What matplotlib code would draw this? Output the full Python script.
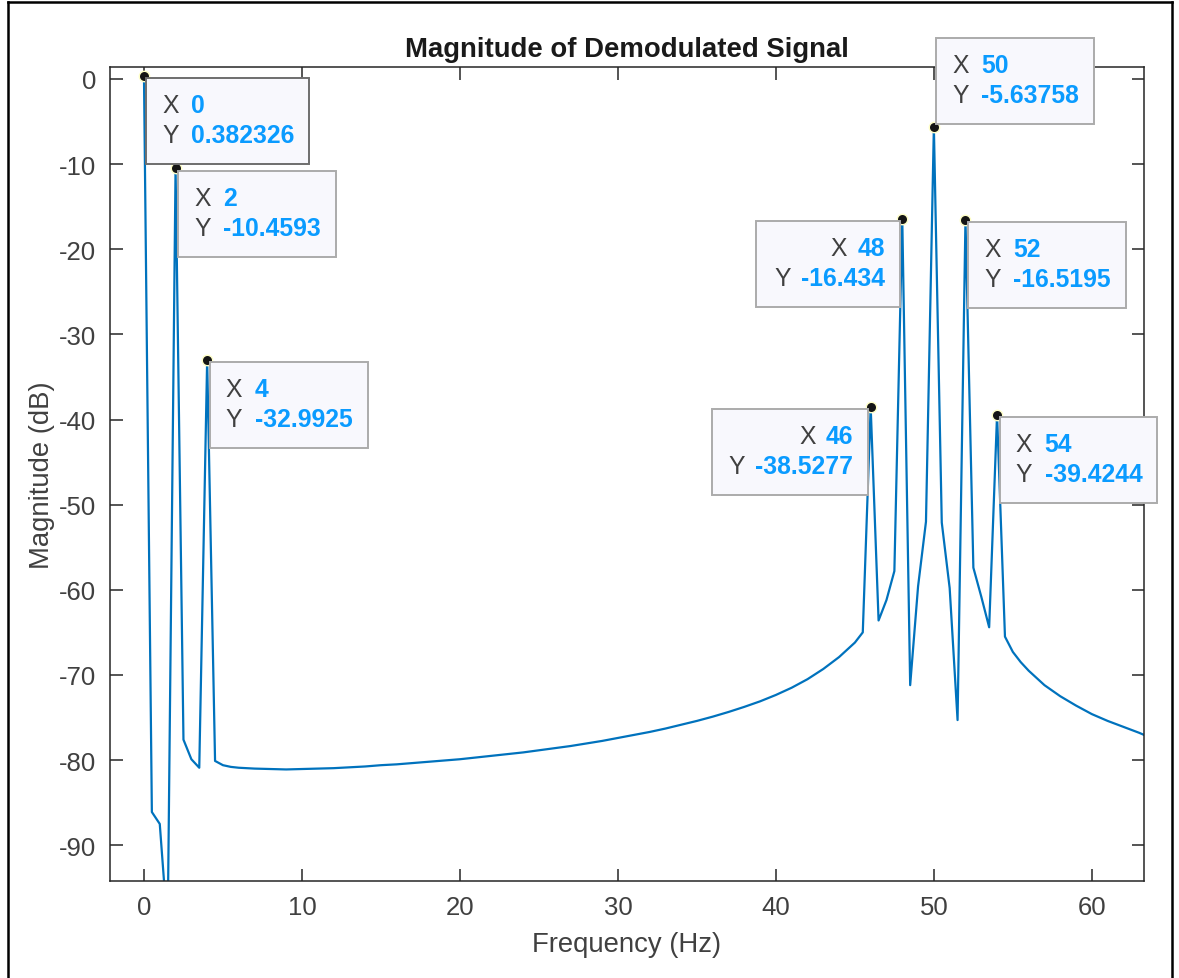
#%% Imports
import matplotlib.pyplot as plt
from matplotlib.patches import Rectangle
from matplotlib.transforms import IdentityTransform

plt.rcParams['font.family'] = ['Liberation Sans', 'DejaVu Sans']
plt.rcParams['axes.unicode_minus'] = False

#%% Spectrum (Hz, dB)
freq = [0, 0.5, 1, 1.5, 2, 2.5, 3, 3.5, 4, 4.5, 5, 5.5,
        6, 7, 8, 9, 10, 11, 12, 13, 14, 15, 16, 17, 18, 19, 20,
        21, 22, 23, 24, 25, 26, 27, 28, 29, 30, 31, 32, 33, 34, 35,
        36, 37, 38, 39, 40, 41, 42, 43, 44, 45, 45.5,
        46, 46.5, 47, 47.5, 48, 48.5, 49, 49.5, 50, 50.5, 51, 51.5,
        52, 52.5, 53, 53.5, 54, 54.5, 55, 55.5, 56, 57, 58, 59, 60,
        61, 62, 63, 63.5]
mag_db = [0.382326, -86.1, -87.5, -100.0, -10.4593, -77.6, -79.9, -80.9,
          -32.9925, -80.1, -80.6, -80.8,
          -80.9, -81.0, -81.05, -81.1, -81.05, -81.0, -80.95, -80.85, -80.75,
          -80.6, -80.5, -80.35, -80.2, -80.05, -79.9,
          -79.7, -79.5, -79.3, -79.1, -78.85, -78.6, -78.35, -78.05, -77.75,
          -77.4, -77.05, -76.7, -76.3, -75.85, -75.4,
          -74.9, -74.35, -73.75, -73.1, -72.35, -71.5, -70.5, -69.3, -67.9,
          -66.2, -65.0,
          -38.5277, -63.6, -61.2, -57.8, -16.434, -71.2, -59.6, -52.0,
          -5.63758, -52.1, -59.8, -75.3,
          -16.5195, -57.4, -60.8, -64.4, -39.4244, -65.5, -67.3, -68.5, -69.5,
          -71.2, -72.5, -73.6, -74.6, -75.4, -76.1, -76.8, -77.2]

# data tips
tip_x = [0, 2, 4, 46, 48, 50, 52, 54]
tip_y = [0.382326, -10.4593, -32.9925, -38.5277, -16.434, -5.63758, -16.5195, -39.4244]
tip_side = ['se', 'se', 'se', 'sw', 'sw', 'ne', 'se', 'se']
tip_width = [163, 158, 158, 156, 144, 158, 158, 157]

#%% Figure
fig = plt.figure(figsize=(11.79, 9.79), dpi=100)
fig.patch.set_facecolor('white')
ax = fig.add_axes([0.0933, 0.0991, 0.877, 0.8314])

ax.plot(freq, mag_db, color='#0072BD', lw=1.6, zorder=2)
ax.plot(tip_x, tip_y, 'o', ms=7.5, mfc='#151515', mec='#FFFFC8', mew=1.0, zorder=4)

ax.set_xlim(-2.15, 63.3)
ax.set_ylim(-94.2, 1.4)
ax.set_xticks(range(0, 61, 10))
ax.set_yticks(range(-90, 1, 10))

axcol = '#262626'
for s in ax.spines.values():
    s.set_color(axcol)
    s.set_linewidth(1.1)
ax.tick_params(direction='in', length=9, width=1.1, color=axcol,
               labelcolor='#404040', labelsize=18.5, top=True, right=True,
               pad=10)
ax.set_xlabel('Frequency (Hz)', fontsize=19.8, color='#404040', labelpad=9)
ax.set_ylabel('Magnitude (dB)', fontsize=19.8, color='#404040', labelpad=3)
ax.set_title('Magnitude of Demodulated Signal', fontsize=19.8,
             fontweight='bold', color='#1a1a1a', pad=8)

#%% Data tip boxes
renderer = fig.canvas.get_renderer()
box_h = 86
gap = 2.5
for i, (x, y) in enumerate(zip(tip_x, tip_y)):
    px, py = ax.transData.transform((x, y))
    w = tip_width[i]
    side = tip_side[i]
    if side == 'se':
        left, top = px + gap, py - gap
    elif side == 'sw':
        left, top = px - gap - w, py - gap
    else:
        left, top = px + gap, py + gap + box_h
    edge = '#6E6E6E' if i == 0 else '#ABABAB'
    fig.add_artist(Rectangle((left, top - box_h), w, box_h,
                             transform=IdentityTransform(), fc='#F8F8FD',
                             ec=edge, lw=1.4, zorder=5))
    rows = [('X', f'{x:g}'), ('Y', f'{y:g}')]
    for j, (lab, val) in enumerate(rows):
        yy = top - 27 - 30 * j
        if side == 'sw':
            t = fig.text(left + w - 15, yy, val, transform=IdentityTransform(),
                         ha='right', va='center', fontsize=17.8,
                         fontweight='bold', color='#0A9BFF', zorder=6)
            bb = t.get_window_extent(renderer)
            fig.text(bb.x0 - 10, yy, lab, transform=IdentityTransform(),
                     ha='right', va='center', fontsize=17.8,
                     color='#404040', zorder=6)
        else:
            fig.text(left + 16, yy, lab, transform=IdentityTransform(),
                     ha='left', va='center', fontsize=17.8,
                     color='#404040', zorder=6)
            fig.text(left + 45, yy, val, transform=IdentityTransform(),
                     ha='left', va='center', fontsize=17.8,
                     fontweight='bold', color='#0A9BFF', zorder=6)

#%% Outer frame of the screenshot
for xs, ys in [([7.5, 7.5], [0, 976.5]), ([7.5, 1171.5], [976.5, 976.5]),
               ([1171.5, 1171.5], [976.5, 0])]:
    fig.add_artist(plt.Line2D(xs, ys, transform=IdentityTransform(),
                              color='black', lw=1.8))

fig.savefig('out.png', dpi=100)
